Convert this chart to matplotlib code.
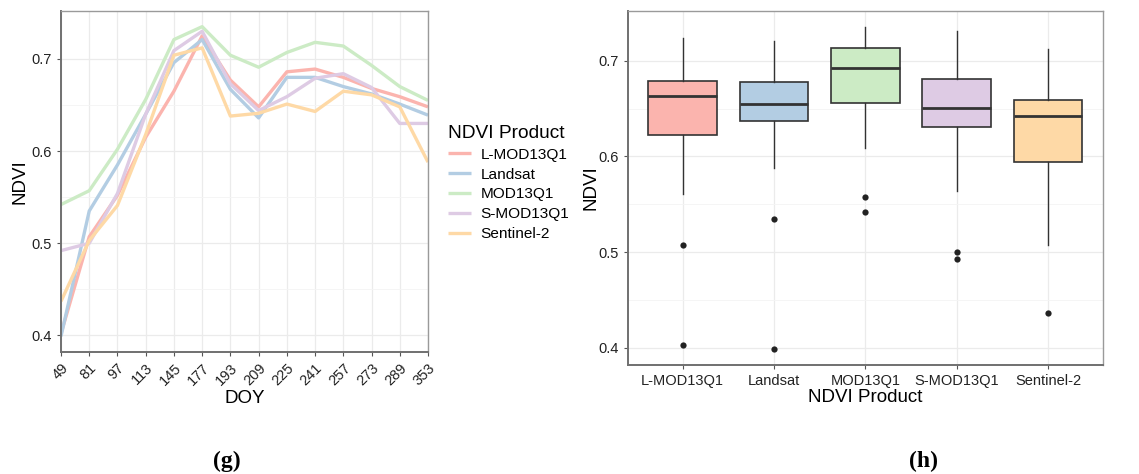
import matplotlib
matplotlib.use("Agg")
import matplotlib.pyplot as plt
from matplotlib.ticker import FixedLocator

plt.rcParams['font.family'] = ['Liberation Sans', 'DejaVu Sans']

# ---------------- data ----------------
doy = ["49", "81", "97", "113", "145", "177", "193", "209", "225", "241", "257", "273", "289", "353"]
products = ["L-MOD13Q1", "Landsat", "MOD13Q1", "S-MOD13Q1", "Sentinel-2"]
colors = ["#FBB4AE", "#B3CDE3", "#CCEBC5", "#DECBE4", "#FED9A6"]

l_mod13q1 = [0.402, 0.507, 0.552, 0.615, 0.665, 0.725, 0.677, 0.648, 0.686, 0.689, 0.680, 0.668, 0.659, 0.648]
landsat   = [0.399, 0.535, 0.585, 0.640, 0.696, 0.721, 0.667, 0.636, 0.680, 0.680, 0.670, 0.662, 0.651, 0.639]
mod13q1   = [0.542, 0.557, 0.602, 0.656, 0.721, 0.735, 0.704, 0.691, 0.707, 0.718, 0.714, 0.693, 0.670, 0.655]
s_mod13q1 = [0.492, 0.500, 0.554, 0.640, 0.709, 0.730, 0.673, 0.644, 0.659, 0.679, 0.684, 0.669, 0.630, 0.630]
sentinel2 = [0.437, 0.503, 0.541, 0.618, 0.704, 0.712, 0.638, 0.641, 0.651, 0.643, 0.665, 0.661, 0.648, 0.588]
series = [l_mod13q1, landsat, mod13q1, s_mod13q1, sentinel2]

# box statistics
box_whishi = [0.724, 0.721, 0.735, 0.731, 0.7125]
box_q3     = [0.679, 0.678, 0.713, 0.681, 0.6585]
box_med    = [0.663, 0.655, 0.692, 0.6505, 0.642]
box_q1     = [0.622, 0.6366, 0.6558, 0.631, 0.5937]
box_whislo = [0.561, 0.5875, 0.6084, 0.564, 0.507]
box_fliers = [[0.5076, 0.4024], [0.5346, 0.399], [0.5575, 0.542], [0.500, 0.4924], [0.4367]]

yticks = [0.4, 0.5, 0.6, 0.7]
yminor = [0.45, 0.55, 0.65]
ylim = (0.382, 0.752)

fig = plt.figure(figsize=(11.39, 4.74), dpi=100)

grid_major = dict(color="#EBEBEB", lw=0.9)
grid_minor = dict(color="#F4F4F4", lw=0.6)
tick_col = "#222222"


def style_axes(ax):
    for s in ["top", "right"]:
        ax.spines[s].set_color("#9A9A9A")
        ax.spines[s].set_linewidth(1.0)
    for s in ["left", "bottom"]:
        ax.spines[s].set_color("#707070")
        ax.spines[s].set_linewidth(1.4)
    ax.set_axisbelow(True)
    ax.tick_params(axis="both", which="major", length=3, width=0.8, color="#555555",
                   labelsize=10.5, labelcolor=tick_col)
    ax.tick_params(axis="both", which="minor", length=0)
    ax.set_yticks(yticks)
    ax.set_yticklabels([f"{v:.1f}" for v in yticks])
    ax.yaxis.set_minor_locator(FixedLocator(yminor))
    ax.grid(True, which="major", **grid_major)
    ax.grid(True, which="minor", axis="y", **grid_minor)
    ax.set_ylim(*ylim)


# ---------------- panel (g) ----------------
ax1 = fig.add_axes([61 / 1139, 1 - 352 / 474, 367 / 1139, 341 / 474])
xpos = list(range(len(doy)))
for name, vals, c in zip(products, series, colors):
    ax1.plot(xpos, vals, color=c, lw=2.4, label=name, solid_capstyle="butt")
style_axes(ax1)
ax1.set_xlim(0, len(doy) - 1)
ax1.set_xticks(xpos)
ax1.set_xticklabels(doy, rotation=45, ha="right", va="top", rotation_mode="anchor")
ax1.set_xlabel("DOY", fontsize=13.5, labelpad=1)
ax1.set_ylabel("NDVI", fontsize=13.5, labelpad=2)

leg = ax1.legend(loc="upper left", bbox_to_anchor=(434 / 1139, 1 - 111 / 474),
                 bbox_transform=fig.transFigure, frameon=False, title="NDVI Product",
                 fontsize=11.1, title_fontsize=13.8, handlelength=1.5, handletextpad=0.6,
                 labelspacing=0.38, alignment="left")

# ---------------- panel (h) ----------------
ax2 = fig.add_axes([627.7 / 1139, 1 - 365 / 474, 475.3 / 1139, 354 / 474])
stats = []
for i, name in enumerate(products):
    stats.append(dict(med=box_med[i], q1=box_q1[i], q3=box_q3[i],
                      whislo=box_whislo[i], whishi=box_whishi[i],
                      fliers=box_fliers[i], label=name))
positions = list(range(1, len(products) + 1))
bp = ax2.bxp(stats, positions=positions, widths=0.75, patch_artist=True, showcaps=False,
             boxprops=dict(edgecolor="#333333", linewidth=1.2),
             medianprops=dict(color="#333333", linewidth=2.0),
             whiskerprops=dict(color="#333333", linewidth=1.0),
             flierprops=dict(marker="o", markerfacecolor="#222222", markeredgecolor="none",
                             markersize=4.5))
for patch, c in zip(bp["boxes"], colors):
    patch.set_facecolor(c)
style_axes(ax2)
ax2.set_xlim(0.4, len(products) + 0.6)
ax2.set_xticks(positions)
ax2.set_xticklabels(products)
ax2.set_xlabel("NDVI Product", fontsize=13.5, labelpad=1)
ax2.set_ylabel("NDVI", fontsize=13.5, labelpad=-1)

# captions
fig.text(227 / 1139, 1 - 461 / 474, "(g)", fontsize=17, fontweight="bold",
         family=["Liberation Serif", "DejaVu Serif"], ha="center", va="center")
fig.text(924 / 1139, 1 - 461 / 474, "(h)", fontsize=17, fontweight="bold",
         family=["Liberation Serif", "DejaVu Serif"], ha="center", va="center")

fig.savefig("out.png", dpi=100)
